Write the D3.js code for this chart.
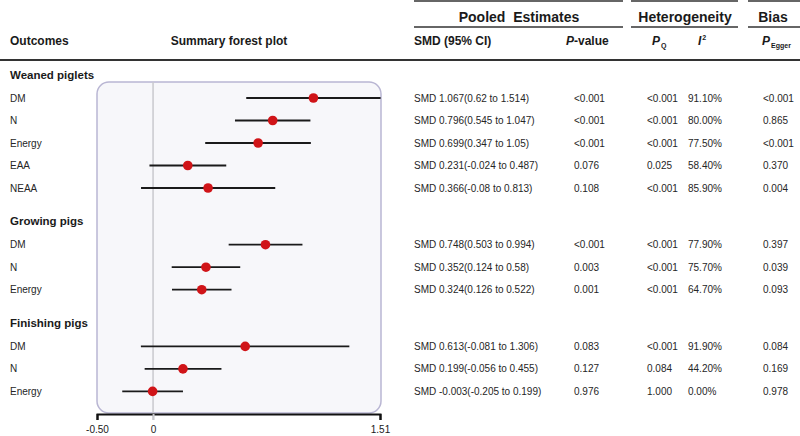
<!DOCTYPE html>
<html>
<head>
<meta charset="utf-8" />
<title>Summary forest plot</title>
<script src="https://d3js.org/d3.v7.min.js"></script>
<style>
  body { margin: 0; background-color: #ffffff; }
  svg { font-family: "Liberation Sans", Arial, sans-serif; }
</style>
</head>
<body>
<svg id="chart"></svg>
<script>
// ---- data ----
var groups = ["Weaned piglets", "Growing pigs", "Finishing pigs"];
var rowGroup = [0, 0, 0, 0, 0, 1, 1, 1, 2, 2, 2];
var outcomes = ["DM", "N", "Energy", "EAA", "NEAA", "DM", "N", "Energy", "DM", "N", "Energy"];
var smd   = [1.067, 0.796, 0.699, 0.231, 0.366, 0.748, 0.352, 0.324, 0.613, 0.199, -0.003];
var lower = [0.62, 0.545, 0.347, -0.024, -0.08, 0.503, 0.124, 0.126, -0.081, -0.056, -0.205];
var upper = [1.514, 1.047, 1.05, 0.487, 0.813, 0.994, 0.58, 0.522, 1.306, 0.455, 0.199];
var pValue = ["<0.001", "<0.001", "<0.001", "0.076", "0.108", "<0.001", "0.003", "0.001", "0.083", "0.127", "0.976"];
var pQ     = ["<0.001", "<0.001", "<0.001", "0.025", "<0.001", "<0.001", "<0.001", "<0.001", "<0.001", "0.084", "1.000"];
var iSq    = ["91.10%", "80.00%", "77.50%", "58.40%", "85.90%", "77.90%", "75.70%", "64.70%", "91.90%", "44.20%", "0.00%"];
var pEgger = ["<0.001", "0.865", "<0.001", "0.370", "0.004", "0.397", "0.039", "0.093", "0.084", "0.169", "0.978"];
var tickValues = [-0.373, 0, 1.51];
var tickLabels = ["-0.50", "0", "1.51"];

var width = 800, height = 436;
var svg = d3.select("#chart").attr("width", width).attr("height", height);

var textColor = "#1a1a1a";

// rows: index within table plus a gap for each new group
var groupGap = 1.52;
var y = d3.scaleLinear().domain([0, 1]).range([98, 120.5]);
function rowPos(i) { return y(i + rowGroup[i] * groupGap); }
function firstRow(g) { return rowGroup.indexOf(g); }

var x = d3.scaleLinear().domain([-0.373, 1.51]).range([97, 380]);

// ---- header lines ----
var topSegs = [[414, 623], [631, 738], [748, 800]];
svg.selectAll(".topline").data(topSegs).enter().append("line")
  .attr("x1", function(d) { return d[0]; }).attr("x2", function(d) { return d[1]; })
  .attr("y1", 1).attr("y2", 1)
  .attr("stroke", "#333").attr("stroke-width", 1.5);
svg.selectAll(".subline").data(topSegs).enter().append("line")
  .attr("x1", function(d) { return d[0]; }).attr("x2", function(d) { return d[1]; })
  .attr("y1", 27).attr("y2", 27)
  .attr("stroke", "#333").attr("stroke-width", 1.5);
svg.append("line").attr("x1", 0).attr("x2", 800).attr("y1", 60).attr("y2", 60)
  .attr("stroke", "#333").attr("stroke-width", 2);

var bigHeads = [["Pooled  Estimates", 519], ["Heterogeneity", 685], ["Bias", 773]];
svg.selectAll(".bighead").data(bigHeads).enter().append("text")
  .attr("x", function(d) { return d[1]; }).attr("y", 22)
  .attr("text-anchor", "middle").attr("font-size", "14px").attr("font-weight", "bold")
  .attr("fill", textColor).style("white-space", "pre")
  .text(function(d) { return d[0]; });

var head = svg.append("g").attr("font-size", "12px").attr("font-weight", "bold").attr("fill", textColor);
head.append("text").attr("x", 10).attr("y", 45).text("Outcomes");
head.append("text").attr("x", 229).attr("y", 45).attr("text-anchor", "middle").text("Summary forest plot");
head.append("text").attr("x", 414).attr("y", 45).text("SMD (95% CI)");
var pv = head.append("text").attr("x", 566).attr("y", 45);
pv.append("tspan").attr("font-style", "italic").text("P");
pv.append("tspan").text("-value");
var pq = head.append("text").attr("x", 652).attr("y", 45);
pq.append("tspan").attr("font-style", "italic").text("P");
pq.append("tspan").attr("font-size", "7px").attr("dy", 3).attr("dx", 1).text("Q");
var is = head.append("text").attr("x", 698).attr("y", 45);
is.append("tspan").attr("font-style", "italic").text("I");
is.append("tspan").attr("font-size", "7px").attr("dy", -5).attr("dx", 1).text("2");
var pe = head.append("text").attr("x", 762).attr("y", 45);
pe.append("tspan").attr("font-style", "italic").text("P");
pe.append("tspan").attr("font-size", "7px").attr("dy", 3).attr("dx", 1).text("Egger");

// ---- forest panel ----
svg.append("rect")
  .attr("x", x.range()[0]).attr("y", 82)
  .attr("width", x.range()[1] - x.range()[0] + 1).attr("height", 331)
  .attr("rx", 12).attr("ry", 12)
  .attr("fill", "#f7f7fa").attr("stroke", "#b9b6d3").attr("stroke-width", 1.5);

svg.append("line")
  .attr("x1", x(0)).attr("x2", x(0)).attr("y1", 82).attr("y2", 420)
  .attr("stroke", "#c9c9ce").attr("stroke-width", 1.5);

var xAxis = d3.axisBottom(x)
  .tickValues(tickValues)
  .tickSizeOuter(0)
  .tickSize(6)
  .tickFormat(function(d, i) { return tickLabels[i]; });
var ax = svg.append("g").attr("transform", "translate(0,414)").call(xAxis);
ax.select(".domain").attr("stroke", "#111").attr("stroke-width", 2);
ax.selectAll(".tick line").attr("stroke", function(d) { return d === 0 ? "#c9c9ce" : "#111"; }).attr("stroke-width", 2);
ax.selectAll(".tick text").attr("font-size", "10px").attr("fill", textColor).attr("dy", "1em")
  .attr("font-family", "Liberation Sans, Arial, sans-serif");

var idx = d3.range(smd.length);

svg.selectAll(".ci").data(idx).enter().append("line")
  .attr("x1", function(i) { return x(lower[i]); })
  .attr("x2", function(i) { return x(upper[i]); })
  .attr("y1", rowPos).attr("y2", rowPos)
  .attr("stroke", "#1a1a1a").attr("stroke-width", 1.8);

svg.selectAll(".pt").data(idx).enter().append("circle")
  .attr("cx", function(i) { return x(smd[i]); })
  .attr("cy", rowPos)
  .attr("r", 4.8)
  .attr("fill", "#d01418");

// ---- labels & table ----
svg.selectAll(".grp").data(groups).enter().append("text")
  .attr("x", 10).attr("y", function(d, g) { return rowPos(firstRow(g)) - 23.5; })
  .attr("dy", "0.35em")
  .attr("font-size", "11.5px").attr("font-weight", "bold").attr("fill", textColor)
  .text(function(d) { return d; });

var cols = [
  { x: 10,  f: function(i) { return outcomes[i]; } },
  { x: 414, f: function(i) { return "SMD " + smd[i] + "(" + lower[i] + " to " + upper[i] + ")"; } },
  { x: 574, f: function(i) { return pValue[i]; } },
  { x: 647, f: function(i) { return pQ[i]; } },
  { x: 688, f: function(i) { return iSq[i]; } },
  { x: 763, f: function(i) { return pEgger[i]; } }
];
cols.forEach(function(c) {
  svg.append("g").selectAll("text").data(idx).enter().append("text")
    .attr("x", c.x).attr("y", rowPos).attr("dy", "0.35em")
    .attr("font-size", "10px").attr("fill", "#262626")
    .text(c.f);
});
</script>
</body>
</html>
